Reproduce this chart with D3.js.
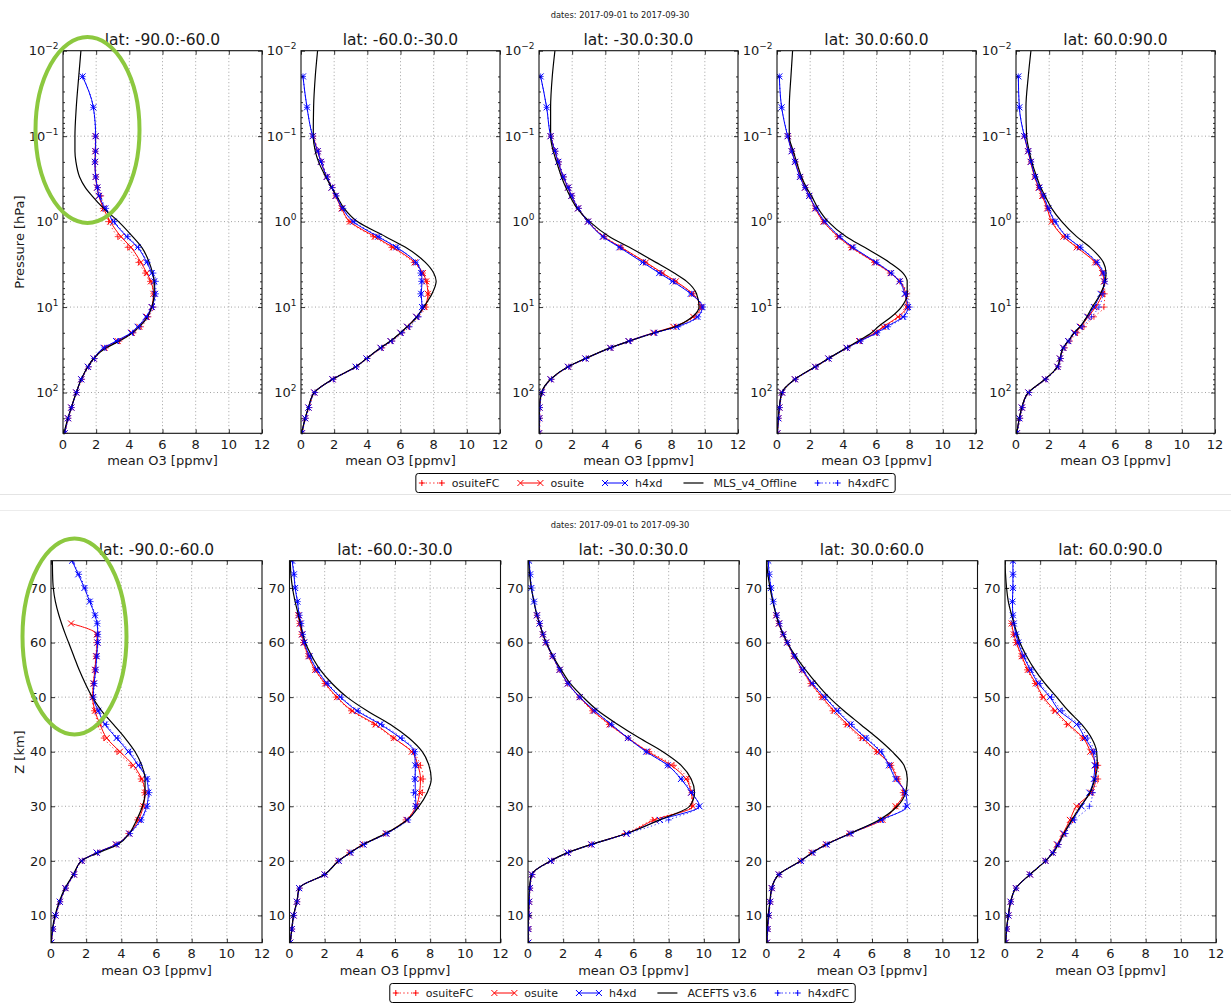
<!DOCTYPE html>
<html>
<head>
<meta charset="utf-8">
<script src="https://cdn.jsdelivr.net/npm/d3@7"></script>
<style>
  body { margin: 0; background: #fff; }
  text { font-family: "DejaVu Sans", sans-serif; fill: #1a1a1a; }
</style>
</head>
<body>
<svg id="fig" width="1231" height="1003"></svg>
<script>
// ---------------------------------------------------------------------------
// Mean O3 profiles per latitude band, September 2017
// ---------------------------------------------------------------------------
const dateTitle = "dates: 2017-09-01 to 2017-09-30";
const bandTitles = ["lat: -90.0:-60.0", "lat: -60.0:-30.0", "lat: -30.0:30.0", "lat: 30.0:60.0", "lat: 60.0:90.0"];
const xTicks = [0, 2, 4, 6, 8, 10, 12];
const pressureTicks = [0.01, 0.1, 1, 10, 100];
const pressureTickExp = ["-2", "-1", "0", "1", "2"];
const altitudeTicks = [10, 20, 30, 40, 50, 60, 70];
const topLegendNames = ["osuiteFC", "osuite", "h4xd", "MLS_v4_Offline", "h4xdFC"];
const bottomLegendNames = ["osuiteFC", "osuite", "h4xd", "ACEFTS v3.6", "h4xdFC"];

// pressure levels [hPa]
const pressureLevels = [0.01, 0.02, 0.046, 0.1, 0.15, 0.2, 0.3, 0.4, 0.5, 0.7, 1, 1.5, 2, 3, 4, 5, 7, 10, 13, 17, 20, 25, 30, 40, 50, 70, 100, 150, 200, 300];

// --- pressure profiles, band 1 (-90:-60)
const pOsuiteFC1 = [null, null, null, 1.95, 1.95, 1.95, 2.0, 2.1, 2.3, 2.4, 2.75, 3.3, 3.9, 4.55, 4.95, 5.25, 5.45, 5.45, 5.15, 4.7, 4.25, 3.4, 2.6, 1.9, 1.55, 1.15, 0.82, 0.52, 0.32, 0.12];
const pOsuite1   = [null, null, null, 1.97, 1.95, 1.93, 1.97, 2.05, 2.15, 2.45, 2.85, 3.5, 4.1, 4.7, 5.05, 5.3, 5.45, 5.35, 5.05, 4.6, 4.15, 3.3, 2.5, 1.85, 1.5, 1.1, 0.8, 0.5, 0.3, 0.1];
const pH4xd1     = [null, 1.18, 1.83, 1.97, 1.97, 1.93, 1.97, 2.07, 2.17, 2.55, 3.05, 3.85, 4.5, 5.05, 5.35, 5.5, 5.55, 5.35, 5.0, 4.5, 4.1, 3.2, 2.45, 1.85, 1.5, 1.1, 0.8, 0.5, 0.3, 0.1];
const pMLS1      = [1.08, 0.95, 0.8, 0.72, 0.72, 0.78, 1.0, 1.35, 1.75, 2.45, 3.35, 4.2, 4.75, 5.2, 5.4, 5.5, 5.5, 5.35, 5.1, 4.6, 4.2, 3.4, 2.6, 1.85, 1.5, 1.1, 0.8, 0.5, 0.3, 0.05];
const pH4xdFC1   = [null, 1.18, 1.83, 1.95, 1.95, 1.92, 1.98, 2.1, 2.25, 2.6, 3.1, 3.9, 4.55, 5.1, 5.45, 5.6, 5.6, 5.45, 5.1, 4.6, 4.2, 3.3, 2.5, 1.9, 1.55, 1.12, 0.82, 0.52, 0.32, 0.12];

// --- pressure profiles, band 2 (-60:-30)
const pOsuiteFC2 = [null, null, null, 0.75, 1.05, 1.25, 1.6, 1.9, 2.1, 2.45, 2.9, 4.35, 5.45, 6.8, 7.35, 7.6, 7.7, 7.55, 7.05, 6.5, 6.1, 5.5, 4.9, 4.0, 3.35, 1.95, 0.85, 0.5, 0.28, 0.08];
const pOsuite2   = [null, null, null, 0.72, 1.0, 1.2, 1.55, 1.85, 2.08, 2.45, 2.95, 4.45, 5.55, 6.85, 7.35, 7.55, 7.65, 7.45, 6.95, 6.4, 6.0, 5.4, 4.8, 3.95, 3.3, 1.9, 0.8, 0.45, 0.25, 0.05];
const pH4xd2     = [null, 0.12, 0.36, 0.7, 1.0, 1.2, 1.55, 1.85, 2.1, 2.5, 3.15, 4.65, 5.75, 6.95, 7.25, 7.3, 7.25, 7.3, 6.95, 6.4, 6.0, 5.4, 4.8, 3.95, 3.3, 1.9, 0.8, 0.45, 0.25, 0.05];
const pMLS2      = [1.0, 0.86, 0.76, 0.74, 0.86, 1.06, 1.5, 1.85, 2.15, 2.6, 3.4, 5.1, 6.3, 7.5, 8.0, 8.15, 7.9, 7.4, 7.0, 6.4, 6.0, 5.4, 4.8, 3.95, 3.3, 1.9, 0.8, 0.45, 0.25, 0.05];
const pH4xdFC2   = [null, 0.12, 0.36, 0.72, 1.05, 1.25, 1.6, 1.9, 2.15, 2.55, 3.2, 4.7, 5.8, 6.9, 7.2, 7.25, 7.2, 7.35, 7.1, 6.55, 6.1, 5.5, 4.85, 4.0, 3.35, 1.95, 0.85, 0.5, 0.28, 0.08];

// --- pressure profiles, band 3 (-30:30)
const pOsuiteFC3 = [null, null, null, 0.72, 0.98, 1.2, 1.5, 1.8, 2.0, 2.4, 3.0, 3.95, 4.95, 6.4, 7.4, 8.2, 9.3, 9.8, 9.4, 8.25, 7.0, 5.5, 4.35, 2.85, 1.8, 0.75, 0.2, 0.06, 0.05, 0.04];
const pOsuite3   = [null, null, null, 0.7, 0.95, 1.15, 1.45, 1.75, 1.95, 2.35, 2.95, 3.9, 4.95, 6.45, 7.45, 8.25, 9.25, 9.75, 9.3, 8.1, 6.9, 5.4, 4.3, 2.8, 1.75, 0.7, 0.16, 0.03, 0.02, 0.0];
const pH4xd3     = [null, 0.1, 0.46, 0.7, 0.96, 1.16, 1.46, 1.76, 1.96, 2.36, 2.95, 3.85, 4.85, 6.25, 7.25, 8.05, 9.15, 9.85, 9.55, 8.3, 6.95, 5.4, 4.3, 2.8, 1.75, 0.7, 0.16, 0.03, 0.02, 0.0];
const pMLS3      = [0.96, 0.8, 0.7, 0.7, 0.86, 1.06, 1.36, 1.62, 1.86, 2.3, 3.05, 4.25, 5.45, 7.05, 8.15, 8.9, 9.5, 9.65, 9.25, 8.2, 7.0, 5.45, 4.3, 2.8, 1.75, 0.7, 0.16, 0.03, 0.02, 0.0];
const pH4xdFC3   = [null, 0.1, 0.46, 0.72, 1.0, 1.2, 1.5, 1.8, 2.0, 2.4, 3.0, 3.9, 4.9, 6.3, 7.3, 8.1, 9.2, 9.9, 9.6, 8.4, 7.05, 5.5, 4.35, 2.85, 1.8, 0.75, 0.2, 0.06, 0.05, 0.04];

// --- pressure profiles, band 4 (30:60)
const pOsuiteFC4 = [null, null, null, 0.68, 0.92, 1.12, 1.42, 1.72, 1.95, 2.3, 2.8, 3.65, 4.45, 5.85, 6.8, 7.4, 7.85, 7.9, 7.4, 6.5, 6.0, 5.0, 4.25, 3.15, 2.35, 1.12, 0.34, 0.17, 0.1, 0.04];
const pOsuite4   = [null, null, null, 0.66, 0.9, 1.1, 1.4, 1.7, 1.95, 2.3, 2.8, 3.7, 4.5, 5.9, 6.85, 7.4, 7.75, 7.8, 7.3, 6.4, 5.9, 4.95, 4.2, 3.1, 2.3, 1.08, 0.3, 0.14, 0.08, 0.02];
const pH4xd4     = [null, 0.14, 0.28, 0.64, 0.88, 1.08, 1.38, 1.68, 1.94, 2.34, 2.88, 3.78, 4.58, 5.98, 6.88, 7.38, 7.7, 7.9, 7.6, 6.6, 6.0, 5.0, 4.2, 3.1, 2.3, 1.08, 0.3, 0.14, 0.08, 0.02];
const pMLS4      = [0.94, 0.84, 0.74, 0.74, 0.98, 1.18, 1.48, 1.78, 2.08, 2.48, 3.08, 4.18, 5.28, 6.78, 7.6, 7.85, 7.85, 7.5, 6.9, 6.1, 5.7, 4.9, 4.2, 3.1, 2.3, 1.08, 0.3, 0.14, 0.08, 0.02];
const pH4xdFC4   = [null, 0.14, 0.28, 0.66, 0.9, 1.1, 1.4, 1.7, 1.96, 2.36, 2.9, 3.8, 4.6, 6.0, 6.9, 7.45, 7.8, 8.0, 7.7, 6.7, 6.05, 5.05, 4.25, 3.15, 2.35, 1.12, 0.34, 0.17, 0.1, 0.04];

// --- pressure profiles, band 5 (60:90)
const pOsuiteFC5 = [null, null, null, 0.52, 0.75, 0.9, 1.15, 1.38, 1.6, 1.9, 2.2, 2.9, 3.7, 4.8, 5.25, 5.35, 5.35, 5.3, 4.7, 4.1, 3.7, 3.25, 2.95, 2.7, 2.55, 1.8, 0.8, 0.4, 0.25, 0.08];
const pOsuite5   = [null, null, null, 0.5, 0.72, 0.88, 1.12, 1.36, 1.58, 1.88, 2.15, 2.86, 3.66, 4.77, 5.2, 5.3, 5.2, 4.8, 4.35, 3.9, 3.55, 3.15, 2.85, 2.65, 2.5, 1.75, 0.75, 0.35, 0.2, 0.05];
const pH4xd5     = [null, 0.14, 0.2, 0.5, 0.74, 0.9, 1.15, 1.41, 1.65, 1.95, 2.35, 3.06, 3.86, 4.87, 5.27, 5.35, 5.1, 4.7, 4.3, 3.85, 3.5, 3.15, 2.85, 2.65, 2.5, 1.75, 0.75, 0.35, 0.2, 0.05];
const pMLS5      = [0.9, 0.74, 0.6, 0.64, 0.8, 0.95, 1.25, 1.49, 1.75, 2.15, 2.76, 3.66, 4.47, 5.27, 5.43, 5.37, 5.1, 4.6, 4.27, 3.86, 3.5, 3.16, 2.85, 2.65, 2.5, 1.75, 0.75, 0.35, 0.2, 0.05];
const pH4xdFC5   = [null, 0.14, 0.2, 0.52, 0.76, 0.92, 1.18, 1.44, 1.68, 1.98, 2.4, 3.1, 3.9, 4.9, 5.3, 5.35, 5.25, 5.0, 4.55, 4.0, 3.6, 3.2, 2.9, 2.7, 2.55, 1.8, 0.8, 0.4, 0.25, 0.08];

// altitude levels [km]
const altitudeLevels = [5, 7.5, 10, 12.5, 15, 17.5, 20, 21.5, 23, 25, 27.5, 30, 32.5, 35, 37.5, 40, 42.5, 45, 47.5, 50, 52.5, 55, 57.5, 60, 61.5, 63.5, 65, 67.5, 70, 72.5, 75];

// --- altitude profiles, band 1 (-90:-60)
const zOsuiteFC1 = [0.04, 0.12, 0.27, 0.52, 0.85, 1.33, 1.78, 2.65, 3.7, 4.4, 4.9, 5.2, 5.3, 5.1, 4.55, 3.75, 3.0, 2.7, 2.45, 2.35, 2.4, 2.48, 2.55, 2.6, 2.62, null, null, null, null, null, null];
const zOsuite1   = [0.02, 0.1, 0.25, 0.5, 0.82, 1.3, 1.74, 2.6, 3.7, 4.45, 4.97, 5.25, 5.35, 5.16, 4.68, 3.92, 3.17, 2.79, 2.5, 2.37, 2.41, 2.5, 2.56, 2.63, 2.6, 1.14, null, null, null, null, null];
const zH4xd1     = [0.02, 0.1, 0.25, 0.5, 0.82, 1.3, 1.74, 2.6, 3.7, 4.45, 5.1, 5.44, 5.54, 5.44, 4.97, 4.4, 3.73, 3.07, 2.69, 2.4, 2.45, 2.54, 2.6, 2.65, 2.66, 2.62, 2.5, 2.2, 1.9, 1.55, 1.2];
const zACE1      = [0.0, 0.08, 0.23, 0.47, 0.8, 1.27, 1.74, 2.7, 3.8, 4.45, 4.87, 5.2, 5.35, 5.35, 5.16, 4.78, 4.21, 3.55, 2.88, 2.35, 1.95, 1.6, 1.3, 1.0, 0.82, 0.6, 0.45, 0.25, 0.13, 0.09, 0.08];
const zH4xdFC1   = [0.04, 0.12, 0.27, 0.52, 0.85, 1.33, 1.78, 2.65, 3.75, 4.5, 5.15, 5.5, 5.6, 5.5, 5.05, 4.5, 3.8, 3.15, 2.72, 2.42, 2.47, 2.56, 2.62, 2.67, 2.68, 2.64, 2.52, 2.25, 1.95, 1.6, 1.22];

// --- altitude profiles, band 2 (-60:-30)
const zOsuiteFC2 = [0.06, 0.15, 0.25, 0.44, 0.58, 2.0, 2.75, 3.4, 4.15, 5.45, 6.6, 7.25, 7.55, 7.6, 7.45, 7.0, 5.9, 4.8, 3.5, 2.65, 2.0, 1.45, 1.06, 0.78, 0.68, 0.57, 0.5, null, null, null, null];
const zOsuite2   = [0.04, 0.13, 0.23, 0.42, 0.55, 2.0, 2.8, 3.45, 4.2, 5.5, 6.65, 7.2, 7.4, 7.45, 7.3, 6.95, 5.93, 4.89, 3.56, 2.7, 2.03, 1.46, 1.08, 0.8, 0.7, 0.58, 0.5, null, null, null, null];
const zH4xd2     = [0.04, 0.13, 0.23, 0.42, 0.55, 2.0, 2.8, 3.45, 4.2, 5.5, 6.7, 7.2, 7.15, 7.15, 7.15, 7.1, 6.3, 5.17, 3.84, 2.89, 2.13, 1.56, 1.14, 0.84, 0.74, 0.65, 0.55, 0.45, 0.32, 0.25, 0.15];
const zACE2      = [0.04, 0.13, 0.23, 0.42, 0.55, 2.0, 2.8, 3.45, 4.2, 5.46, 6.69, 7.36, 7.83, 8.06, 7.93, 7.55, 6.79, 5.74, 4.41, 3.27, 2.42, 1.75, 1.27, 0.9, 0.76, 0.62, 0.51, 0.32, 0.17, 0.08, 0.04];
const zH4xdFC2   = [0.06, 0.15, 0.25, 0.44, 0.58, 2.0, 2.8, 3.5, 4.25, 5.55, 6.75, 7.15, 7.05, 7.1, 7.2, 7.15, 6.4, 5.25, 3.9, 2.95, 2.18, 1.6, 1.17, 0.87, 0.77, 0.67, 0.58, 0.47, 0.34, 0.27, 0.18];

// --- altitude profiles, band 3 (-30:30)
const zOsuiteFC3 = [0.04, 0.04, 0.06, 0.08, 0.12, 0.25, 1.35, 2.3, 3.6, 5.5, 7.1, 9.3, 9.3, 9.1, 8.3, 6.9, 5.7, 4.6, 3.65, 2.9, 2.25, 1.78, 1.38, 1.0, 0.84, 0.65, 0.5, null, null, null, null];
const zOsuite3   = [0.02, 0.02, 0.04, 0.06, 0.1, 0.22, 1.3, 2.25, 3.6, 5.6, 7.2, 9.38, 9.28, 8.99, 8.14, 6.82, 5.68, 4.64, 3.69, 2.94, 2.27, 1.8, 1.4, 1.02, 0.85, 0.66, 0.51, null, null, null, null];
const zH4xd3     = [0.02, 0.02, 0.04, 0.06, 0.1, 0.22, 1.3, 2.25, 3.6, 5.6, 7.5, 9.75, 9.28, 8.7, 7.95, 6.72, 5.68, 4.73, 3.79, 2.94, 2.27, 1.8, 1.4, 1.02, 0.85, 0.66, 0.51, 0.34, 0.19, 0.12, 0.06];
const zACE3      = [0.0, 0.0, 0.02, 0.04, 0.08, 0.2, 1.3, 2.25, 3.6, 5.6, 7.48, 9.19, 9.47, 9.28, 8.71, 7.67, 6.34, 5.11, 3.98, 3.13, 2.4, 1.89, 1.42, 1.04, 0.85, 0.66, 0.51, 0.34, 0.19, 0.09, 0.04];
const zH4xdFC3   = [0.04, 0.04, 0.06, 0.08, 0.12, 0.25, 1.35, 2.3, 3.65, 5.7, 8.0, 9.7, 9.35, 8.75, 7.95, 6.75, 5.7, 4.75, 3.8, 2.95, 2.28, 1.82, 1.42, 1.04, 0.87, 0.68, 0.53, 0.36, 0.21, 0.14, 0.08];

// --- altitude profiles, band 4 (30:60)
const zOsuiteFC4 = [0.04, 0.08, 0.14, 0.22, 0.32, 0.72, 1.95, 2.55, 3.35, 4.7, 6.5, 7.4, 7.75, 7.5, 7.1, 6.25, 5.35, 4.5, 3.75, 3.1, 2.5, 2.0, 1.54, 1.16, 0.94, 0.7, 0.55, null, null, null, null];
const zOsuite4   = [0.02, 0.06, 0.12, 0.2, 0.3, 0.7, 1.95, 2.6, 3.4, 4.75, 6.6, 7.34, 7.82, 7.44, 7.06, 6.3, 5.45, 4.59, 3.83, 3.17, 2.54, 2.03, 1.56, 1.18, 0.95, 0.7, 0.55, null, null, null, null];
const zH4xd4     = [0.02, 0.06, 0.12, 0.2, 0.3, 0.7, 1.95, 2.6, 3.4, 4.75, 6.5, 8.0, 7.91, 7.34, 6.96, 6.49, 5.64, 4.78, 4.02, 3.3, 2.6, 2.05, 1.58, 1.18, 0.95, 0.72, 0.57, 0.38, 0.25, 0.15, 0.1];
const zACE4      = [0.0, 0.04, 0.1, 0.19, 0.3, 0.7, 1.95, 2.6, 3.4, 4.75, 6.4, 7.44, 7.91, 8.01, 7.82, 7.15, 6.3, 5.35, 4.4, 3.55, 2.85, 2.22, 1.65, 1.18, 0.95, 0.7, 0.55, 0.36, 0.2, 0.08, 0.0];
const zH4xdFC4   = [0.04, 0.08, 0.14, 0.22, 0.32, 0.72, 2.0, 2.65, 3.45, 4.8, 6.6, 7.9, 7.85, 7.4, 7.0, 6.55, 5.7, 4.85, 4.08, 3.35, 2.65, 2.08, 1.6, 1.2, 0.97, 0.74, 0.59, 0.4, 0.27, 0.17, 0.12];

// --- altitude profiles, band 5 (60:90)
const zOsuiteFC5 = [0.06, 0.11, 0.21, 0.34, 0.64, 1.4, 2.3, 2.75, 3.05, 3.4, 3.85, 4.2, 4.95, 5.3, 5.3, 5.0, 4.4, 3.5, 2.75, 2.1, 1.7, 1.25, 0.92, 0.62, 0.48, 0.36, null, null, null, null, null];
const zOsuite5   = [0.04, 0.09, 0.19, 0.32, 0.62, 1.42, 2.3, 2.7, 2.95, 3.3, 3.69, 4.07, 4.9, 5.15, 5.15, 4.85, 4.45, 3.6, 2.85, 2.18, 1.75, 1.3, 0.95, 0.65, 0.5, 0.38, null, null, null, null, null];
const zH4xd5     = [0.04, 0.09, 0.19, 0.32, 0.62, 1.42, 2.3, 2.7, 3.0, 3.35, 3.85, 4.35, 4.8, 5.05, 5.1, 5.0, 4.55, 4.07, 3.1, 2.56, 1.9, 1.45, 1.05, 0.75, 0.62, 0.5, 0.45, 0.42, 0.45, 0.45, 0.45];
const zACE5      = [0.04, 0.09, 0.19, 0.32, 0.62, 1.42, 2.3, 2.75, 3.03, 3.35, 3.8, 4.3, 4.83, 5.11, 5.25, 5.21, 4.92, 4.36, 3.6, 2.94, 2.27, 1.7, 1.23, 0.85, 0.7, 0.51, 0.38, 0.19, 0.09, 0.03, 0.0];
const zH4xdFC5   = [0.06, 0.11, 0.21, 0.34, 0.64, 1.4, 2.3, 2.75, 3.05, 3.45, 3.95, 4.8, 5.0, 5.15, 5.2, 5.1, 4.7, 4.2, 3.25, 2.65, 2.0, 1.5, 1.1, 0.8, 0.66, 0.52, 0.46, 0.43, 0.46, 0.47, 0.47];

// per-band series, in drawing order: osuiteFC, osuite, h4xd, reference, h4xdFC
const pressureBands = [
  [pOsuiteFC1, pOsuite1, pH4xd1, pMLS1, pH4xdFC1],
  [pOsuiteFC2, pOsuite2, pH4xd2, pMLS2, pH4xdFC2],
  [pOsuiteFC3, pOsuite3, pH4xd3, pMLS3, pH4xdFC3],
  [pOsuiteFC4, pOsuite4, pH4xd4, pMLS4, pH4xdFC4],
  [pOsuiteFC5, pOsuite5, pH4xd5, pMLS5, pH4xdFC5]
];
const altitudeBands = [
  [zOsuiteFC1, zOsuite1, zH4xd1, zACE1, zH4xdFC1],
  [zOsuiteFC2, zOsuite2, zH4xd2, zACE2, zH4xdFC2],
  [zOsuiteFC3, zOsuite3, zH4xd3, zACE3, zH4xdFC3],
  [zOsuiteFC4, zOsuite4, zH4xd4, zACE4, zH4xdFC4],
  [zOsuiteFC5, zOsuite5, zH4xd5, zACE5, zH4xdFC5]
];

// ---------------------------------------------------------------------------
// styles & layout
// ---------------------------------------------------------------------------
const seriesStyles = [
  { color: "#ff0000", dash: "1.2,2.6", marker: "plus", width: 1, opacity: 0.75 },
  { color: "#ff0000", dash: null, marker: "cross", width: 1, opacity: 1 },
  { color: "#0000ff", dash: null, marker: "cross", width: 1, opacity: 1 },
  { color: "#000000", dash: null, marker: null, width: 1.2, opacity: 1 },
  { color: "#0000ff", dash: "1.2,2.6", marker: "plus", width: 1, opacity: 0.75 }
];

const topLayout = { lefts: [63, 301, 539, 777, 1016], width: 199, top: 50.7, bottom: 433.3 };
const botLayout = { lefts: [51, 289.5, 528, 766.5, 1005], width: 211, top: 560.7, bottom: 942.7 };

const svg = d3.select("#fig");
svg.append("rect").attr("width", 1231).attr("height", 1003).attr("fill", "#fff");

// faint separators between the two figures
svg.append("line").attr("x1", 0).attr("x2", 1231).attr("y1", 494.5).attr("y2", 494.5)
  .attr("stroke", "#e4e4e4").attr("stroke-width", 1);
svg.append("line").attr("x1", 0).attr("x2", 1231).attr("y1", 510.5).attr("y2", 510.5)
  .attr("stroke", "#ececec").attr("stroke-width", 1);

function markerPath(kind, s) {
  return kind === "plus"
    ? `M${-s},0H${s}M0,${-s}V${s}`
    : `M${-s},${-s}L${s},${s}M${-s},${s}L${s},${-s}`;
}

let clipCount = 0;

function drawPanel(cfg) {
  const { left, width, top, bottom, y, levels, series, title, yKind, majorY, minorY } = cfg;
  const right = left + width;
  const x = d3.scaleLinear().domain([0, 12]).range([left, right]);
  const g = svg.append("g");

  const clipId = "clip" + (clipCount++);
  g.append("clipPath").attr("id", clipId)
    .append("rect").attr("x", left).attr("y", top).attr("width", width).attr("height", bottom - top);

  // dotted grid
  const grid = g.append("g").attr("stroke", "#8a8a8a").attr("stroke-width", 0.8)
    .attr("stroke-dasharray", "1,2.5");
  xTicks.slice(1, -1).forEach(v => {
    grid.append("line").attr("x1", x(v)).attr("x2", x(v)).attr("y1", top).attr("y2", bottom);
  });
  majorY.forEach(v => {
    const yy = y(v);
    if (yy > top + 1 && yy < bottom - 1)
      grid.append("line").attr("x1", left).attr("x2", right).attr("y1", yy).attr("y2", yy);
  });

  // profiles
  const plot = g.append("g").attr("clip-path", `url(#${clipId})`);
  series.forEach((vals, si) => {
    const st = seriesStyles[si];
    const pts = levels.map((lv, i) => ({ lv, v: vals[i] })).filter(d => d.v != null);
    const line = d3.line().x(d => x(d.v)).y(d => y(d.lv)).curve(d3.curveMonotoneY);
    plot.append("path").attr("d", line(pts)).attr("fill", "none")
      .attr("stroke", st.color).attr("stroke-width", st.width)
      .attr("stroke-dasharray", st.dash)
      .attr("stroke-opacity", st.dash ? 0.85 : 1);
    if (st.marker) {
      plot.append("g").selectAll("path").data(pts).join("path")
        .attr("transform", d => `translate(${x(d.v)},${y(d.lv)})`)
        .attr("d", markerPath(st.marker, 3))
        .attr("fill", "none").attr("stroke", st.color).attr("stroke-width", 1)
        .attr("stroke-opacity", st.opacity);
    }
  });

  // ticks on all four sides, pointing inward
  g.append("g").attr("transform", `translate(0,${bottom})`)
    .call(d3.axisBottom(x).tickValues(xTicks).tickSize(-4).tickFormat(""));
  g.append("g").attr("transform", `translate(0,${top})`)
    .call(d3.axisTop(x).tickValues(xTicks).tickSize(-4).tickFormat(""));
  g.append("g").attr("transform", `translate(${left},0)`)
    .call(d3.axisLeft(y).tickValues(majorY).tickSize(-4).tickFormat(""));
  g.append("g").attr("transform", `translate(${right},0)`)
    .call(d3.axisRight(y).tickValues(majorY).tickSize(-4).tickFormat(""));
  if (minorY) {
    g.append("g").attr("transform", `translate(${left},0)`)
      .call(d3.axisLeft(y).tickValues(minorY).tickSize(-2).tickFormat(""));
    g.append("g").attr("transform", `translate(${right},0)`)
      .call(d3.axisRight(y).tickValues(minorY).tickSize(-2).tickFormat(""));
  }
  g.selectAll(".domain").remove();
  g.selectAll(".tick line").attr("stroke", "#000").attr("stroke-width", 0.8);

  // frame
  g.append("rect").attr("x", left).attr("y", top).attr("width", width).attr("height", bottom - top)
    .attr("fill", "none").attr("stroke", "#111").attr("stroke-width", 1.1);

  // x tick labels
  xTicks.forEach(v => {
    g.append("text").attr("x", x(v)).attr("y", bottom + 15.5).attr("text-anchor", "middle")
      .attr("font-size", 13).text(v);
  });
  // y tick labels
  if (yKind === "pressure") {
    majorY.forEach((v, i) => {
      const t = g.append("text").attr("x", left - 4.5).attr("y", y(v) + 4.7)
        .attr("text-anchor", "end").attr("font-size", 13);
      t.append("tspan").text("10");
      t.append("tspan").attr("dy", -6).attr("font-size", 9)
        .text(pressureTickExp[i].replace("-", "\u2212"));
    });
  } else {
    majorY.forEach(v => {
      g.append("text").attr("x", left - 4.5).attr("y", y(v) + 4.7)
        .attr("text-anchor", "end").attr("font-size", 13).text(v);
    });
  }

  // titles
  g.append("text").attr("x", (left + right) / 2).attr("y", top - 5.5)
    .attr("text-anchor", "middle").attr("font-size", 15.5).text(title);
  g.append("text").attr("x", (left + right) / 2).attr("y", bottom + 32)
    .attr("text-anchor", "middle").attr("font-size", 13).text("mean O3 [ppmv]");
}

// minor ticks for the log pressure axis
const minorPressure = [];
[0.01, 0.1, 1, 10, 100].forEach(d => {
  for (let k = 2; k <= 9; k++) { const v = d * k; if (v <= 300) minorPressure.push(v); }
});

// top figure: pressure coordinates
topLayout.lefts.forEach((left, b) => {
  const y = d3.scaleLog().domain([0.01, 300]).range([topLayout.top, topLayout.bottom]);
  drawPanel({
    left, width: topLayout.width, top: topLayout.top, bottom: topLayout.bottom, y,
    levels: pressureLevels, series: pressureBands[b], title: bandTitles[b],
    yKind: "pressure", majorY: pressureTicks, minorY: minorPressure
  });
});

// bottom figure: altitude coordinates
botLayout.lefts.forEach((left, b) => {
  const y = d3.scaleLinear().domain([5, 75]).range([botLayout.bottom, botLayout.top]);
  drawPanel({
    left, width: botLayout.width, top: botLayout.top, bottom: botLayout.bottom, y,
    levels: altitudeLevels, series: altitudeBands[b], title: bandTitles[b],
    yKind: "altitude", majorY: altitudeTicks, minorY: null
  });
});

// figure titles and y axis labels
svg.append("text").attr("x", 620).attr("y", 17.5).attr("text-anchor", "middle")
  .attr("font-size", 8.3).text(dateTitle);
svg.append("text").attr("x", 620).attr("y", 527.5).attr("text-anchor", "middle")
  .attr("font-size", 8.3).text(dateTitle);
svg.append("text").attr("transform", "translate(23.5,242) rotate(-90)")
  .attr("text-anchor", "middle").attr("font-size", 13).text("Pressure [hPa]");
svg.append("text").attr("transform", "translate(23.5,752) rotate(-90)")
  .attr("text-anchor", "middle").attr("font-size", 13).text("Z [km]");

// legends
function drawLegend(names, centerX, top, height) {
  const g = svg.append("g");
  const box = g.append("rect").attr("y", top).attr("height", height).attr("rx", 2.5)
    .attr("fill", "#fff").attr("stroke", "#000").attr("stroke-width", 1);
  let xPos = 6;
  const midY = top + height / 2;
  const items = g.append("g");
  names.forEach((name, i) => {
    const st = seriesStyles[i];
    const hx0 = xPos, hx1 = xPos + 20;
    items.append("line").attr("x1", hx0).attr("x2", hx1).attr("y1", midY).attr("y2", midY)
      .attr("stroke", st.color).attr("stroke-width", st.width).attr("stroke-dasharray", st.dash);
    if (st.marker) {
      [hx0, hx1].forEach(hx => {
        items.append("path").attr("transform", `translate(${hx},${midY})`)
          .attr("d", markerPath(st.marker, 3)).attr("fill", "none")
          .attr("stroke", st.color).attr("stroke-width", 1);
      });
    }
    const t = items.append("text").attr("x", hx1 + 10).attr("y", midY + 4)
      .attr("font-size", 11).text(name);
    xPos = hx1 + 10 + t.node().getComputedTextLength() + 21;
  });
  const w = xPos - 21 + 6;
  const x0 = centerX - w / 2;
  items.attr("transform", `translate(${x0},0)`);
  box.attr("x", x0).attr("width", w);
}
drawLegend(topLegendNames, 655.5, 473.5, 19);
drawLegend(bottomLegendNames, 622.5, 983.5, 19);

// highlighted regions in the southern polar band
svg.append("ellipse").attr("cx", 87.5).attr("cy", 130).attr("rx", 52).attr("ry", 93)
  .attr("fill", "none").attr("stroke", "#8cc83f").attr("stroke-width", 4);
svg.append("ellipse").attr("cx", 74.5).attr("cy", 636.5).attr("rx", 52).attr("ry", 98)
  .attr("fill", "none").attr("stroke", "#8cc83f").attr("stroke-width", 4);
</script>
</body>
</html>
